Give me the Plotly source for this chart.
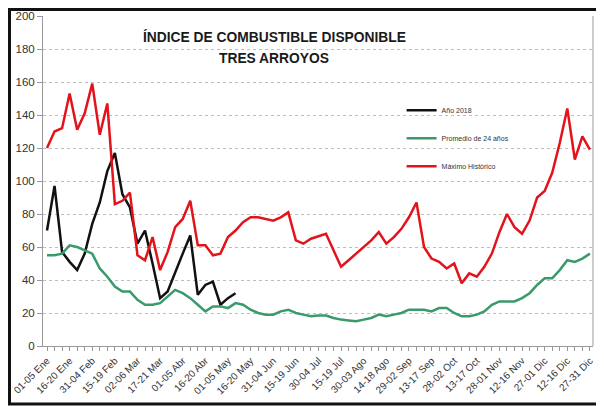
import plotly.graph_objects as go

# ---- data (pentads of the year, 73 periods) ----
tick_labels = ["01-05 Ene", "16-20 Ene", "31-04 Feb", "15-19 Feb", "02-06 Mar",
               "17-21 Mar", "01-05 Abr", "16-20 Abr", "01-05 May", "16-20 May",
               "31-04 Jun", "15-19 Jun", "30-04 Jul", "15-19 Jul", "30-03 Ago",
               "14-18 Ago", "29-02 Sep", "13-17 Sep", "28-02 Oct", "13-17 Oct",
               "28-01 Nov", "12-16 Nov", "27-01 Dic", "12-16 Dic", "27-31 Dic"]

anio_2018 = [70, 97, 57, 51, 46, 56, 74, 87, 106, 117, 92, 84, 62, 70, 50, 29,
             33, 45, 56, 67, 31, 37, 39, 25, 29, 32]

promedio_24 = [55, 55, 56, 61, 60, 58, 56, 47, 42, 36, 33, 33, 28, 25, 25, 26,
               30, 34, 32, 29, 25, 21, 24, 24, 23, 26, 25, 22, 20, 19, 19, 21,
               22, 20, 19, 18, 18.5, 18.5, 17, 16, 15.5, 15, 16, 17, 19, 18, 19, 20,
               22, 22, 22, 21, 23, 23, 20, 18, 18, 19, 21, 25, 27, 27, 27, 29,
               32, 37, 41, 41, 46, 52, 51, 53, 56]

maximo_hist = [120, 130, 132, 153, 131, 141, 159, 128, 147, 86, 88, 93, 55, 52, 66, 46,
               57, 72, 77, 88, 61, 61, 55, 56, 66, 70, 75, 78, 78, 77, 76, 78,
               81, 64, 62, 65, 66.5, 68, 58, 48, 52, 56, 60, 64, 69, 62, 66, 71,
               78, 87, 60, 53, 51, 47, 50, 38, 44, 42, 48, 56, 69, 80, 72, 68,
               76, 90, 94, 105, 123, 144, 113, 127, 119]

series_names = ["Año 2018", "Promedio de 24 años", "Máximo Histórico"]
series_colors = ["#111111", "#3a9a6c", "#e3131b"]

n = len(maximo_hist)
periods = list(range(n))
ticktext = [tick_labels[i // 3] if i % 3 == 0 else "" for i in periods]

fig = go.Figure()
for name, vals, col in zip(series_names, [anio_2018, promedio_24, maximo_hist], series_colors):
    fig.add_trace(go.Scatter(
        x=periods[:len(vals)], y=vals, mode="lines", name=name,
        legendgroup=name,
        line=dict(color=col, width=2.5),
    ))

FONT = "Liberation Sans, Arial, sans-serif"

# page body adds an 8px margin, so the figure is 596x398 and fills the rest
W, H = 596, 398
L, R, T, B = 35, 11, 8, 60
PW, PH = W - L - R, H - T - B

fig.update_layout(
    width=W, height=H,
    margin=dict(l=L, r=R, t=T, b=B, autoexpand=False),
    paper_bgcolor="white", plot_bgcolor="white",
    font=dict(family=FONT, color="#333333"),
    showlegend=True,
    legend=dict(x=0.652, y=0.758, xanchor="left", yanchor="top",
                font=dict(size=7, family=FONT, color="#333333"),
                bgcolor="rgba(0,0,0,0)", tracegroupgap=9, itemwidth=30),
    xaxis=dict(
        automargin=False,
        range=[-0.53, 72.41], tickmode="array", tickvals=periods, ticktext=ticktext,
        tickangle=-45, tickfont=dict(size=10, family=FONT, color="#333333"),
        ticks="outside", ticklen=4, tickcolor="#999999",
        showline=True, linecolor="#999999", linewidth=1,
        showgrid=False, zeroline=False,
    ),
    yaxis=dict(
        automargin=False,
        range=[0, 200], tickmode="linear", tick0=0, dtick=20,
        tickfont=dict(size=11.5, family=FONT, color="#333333"),
        ticks="outside", ticklen=5, tickcolor="#999999",
        showline=True, linecolor="#999999", linewidth=1,
        showgrid=True, gridcolor="#bdbdbd", griddash="dot", gridwidth=1,
        zeroline=False,
    ),
    annotations=[
        dict(text="<b>ÍNDICE DE COMBUSTIBLE DISPONIBLE</b>", xref="paper", yref="paper",
             x=0.42, y=(PH - 21) / PH, xanchor="center", yanchor="middle",
             showarrow=False, font=dict(size=13.8, family=FONT, color="#1a1a1a")),
        dict(text="<b>TRES ARROYOS</b>", xref="paper", yref="paper",
             x=0.42, y=(PH - 42.5) / PH, xanchor="center", yanchor="middle",
             showarrow=False, font=dict(size=13.8, family=FONT, color="#1a1a1a")),
    ],
    shapes=[
        dict(type="line", xref="paper", yref="paper", x0=1, x1=1, y0=0, y1=1,
             line=dict(color="#999999", width=1)),
        dict(type="rect", xref="paper", yref="paper",
             x0=(1.5 - L) / PW, x1=(593 - L) / PW,
             y0=-(396 - (T + PH)) / PH, y1=(T + PH - 1.5) / PH,
             line=dict(color="#111111", width=3)),
    ],
)

fig.write_html("out.html")
